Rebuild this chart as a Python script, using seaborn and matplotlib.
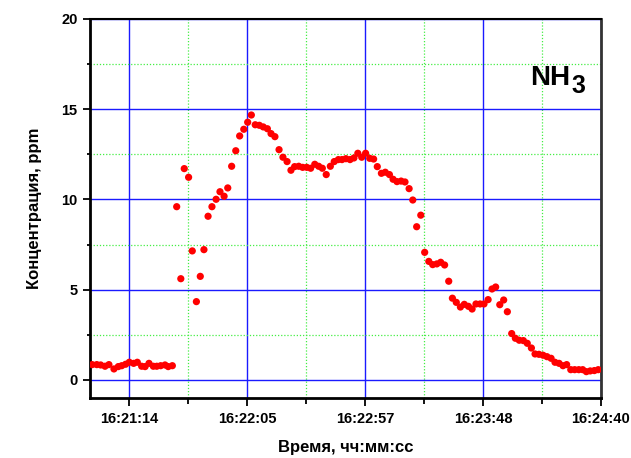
import matplotlib
matplotlib.use("Agg")
import matplotlib.pyplot as plt
import seaborn as sns
import pandas as pd
from matplotlib.ticker import FixedLocator, MultipleLocator

# time in seconds after 16:20:00
time_s = [57.8, 59.8, 61.5, 63.4, 65.1, 67.3, 69.2, 70.7, 72.4, 74.0,
          75.9, 77.5, 79.4, 80.9, 82.6, 84.5, 86.0, 87.7, 89.6, 91.0,
          92.8, 94.7, 96.5, 98.0, 99.9, 101.5, 103.3, 105.0, 106.6, 108.4,
          110.1, 111.9, 113.6, 115.4, 117.0, 118.7, 120.5, 122.2, 124.0, 125.7,
          127.3, 129.0, 130.8, 132.5, 134.3, 135.9, 137.6, 139.4, 141.1, 142.9,
          144.6, 146.2, 148.0, 149.7, 151.5, 153.2, 155.0, 156.7, 158.3, 160.0,
          161.8, 163.5, 165.3, 166.9, 168.6, 170.4, 172.1, 173.8, 175.5, 177.2,
          179.0, 180.7, 182.3, 184.1, 185.8, 187.6, 189.2, 190.9, 192.7, 194.4,
          196.2, 197.8, 199.5, 201.3, 203.0, 204.8, 206.5, 208.3, 210.0, 211.7,
          213.5, 215.1, 216.8, 218.6, 220.3, 222.1, 223.7, 225.4, 227.2, 228.9,
          230.7, 232.4, 234.0, 235.8, 237.5, 239.1, 241.0, 242.6, 244.3, 246.1,
          247.8, 249.6, 251.2, 252.9, 254.7, 256.4, 258.2, 259.9, 261.7, 263.4,
          265.0, 266.8, 268.5, 270.3, 272.0, 273.6, 275.3, 277.1, 278.8]

conc_ppm = [0.85, 0.85, 0.83, 0.76, 0.85, 0.61, 0.74, 0.79, 0.87, 0.98,
            0.92, 0.98, 0.76, 0.74, 0.92, 0.76, 0.76, 0.79, 0.83, 0.74,
            0.79, 9.60, 5.61, 11.71, 11.23, 7.15, 4.34, 5.74, 7.22, 9.07,
            9.60, 10.01, 10.43, 10.18, 10.64, 11.84, 12.70, 13.52, 13.89, 14.28,
            14.68, 14.14, 14.11, 14.02, 13.92, 13.65, 13.48, 12.76, 12.34, 12.10,
            11.62, 11.82, 11.84, 11.78, 11.78, 11.73, 11.95, 11.84, 11.73, 11.38,
            11.84, 12.10, 12.21, 12.21, 12.26, 12.21, 12.30, 12.56, 12.34, 12.56,
            12.28, 12.24, 11.82, 11.45, 11.51, 11.38, 11.12, 10.99, 11.02, 10.97,
            10.60, 9.97, 8.49, 9.13, 7.07, 6.57, 6.39, 6.43, 6.52, 6.37,
            5.47, 4.53, 4.30, 4.04, 4.19, 4.08, 3.93, 4.21, 4.21, 4.21,
            4.45, 5.04, 5.15, 4.17, 4.43, 3.78, 2.57, 2.31, 2.20, 2.18,
            2.03, 1.77, 1.44, 1.42, 1.37, 1.29, 1.20, 0.98, 0.92, 0.79,
            0.85, 0.57, 0.57, 0.57, 0.57, 0.46, 0.50, 0.52, 0.57]

x_tick_seconds = [74, 125.5, 177, 228.5, 280]
x_tick_labels = ["16:21:14", "16:22:05", "16:22:57", "16:23:48", "16:24:40"]
x_minor_seconds = [99.75, 151.25, 202.75, 254.25]
y_ticks = [0, 5, 10, 15, 20]

sns.set_theme(style="white")
plt.rcParams["font.family"] = ["Liberation Sans", "DejaVu Sans"]
plt.rcParams["font.weight"] = "bold"

fig = plt.figure(figsize=(6.31, 4.58), dpi=100)
W, H = 631, 458
ax = fig.add_axes([90 / W, 1 - 398 / H, 511 / W, 379 / H])

df = pd.DataFrame({"t": time_s, "c": conc_ppm})
sns.scatterplot(data=df, x="t", y="c", ax=ax, color="#ff0000", s=27,
                edgecolor="none", linewidth=0, zorder=3, legend=False)

ax.set_xlim(56.84, 280)
ax.set_ylim(-1, 20)
ax.xaxis.set_major_locator(FixedLocator(x_tick_seconds))
ax.set_xticklabels(x_tick_labels)
ax.xaxis.set_minor_locator(FixedLocator(x_minor_seconds))
ax.yaxis.set_major_locator(FixedLocator(y_ticks))
ax.yaxis.set_minor_locator(MultipleLocator(2.5))

ax.set_axisbelow(True)
ax.grid(which="major", color="#1a1aff", lw=1.0, ls="-")
ax.grid(which="minor", color="#44ee44", lw=0.9, ls=(0, (1, 1.5)))

ax.tick_params(which="both", bottom=True, left=True, direction="out",
               color="black", width=1.3)
ax.tick_params(axis="x", which="major", length=6, labelsize=10.5, pad=4)
ax.tick_params(axis="x", which="minor", length=4)
ax.tick_params(axis="y", which="major", length=5, labelsize=10.5, pad=4)
ax.tick_params(axis="y", which="minor", length=2.5)
for lbl in ax.get_xticklabels() + ax.get_yticklabels():
    lbl.set_fontweight("bold")
    lbl.set_color("black")

for side, sp in ax.spines.items():
    sp.set_visible(True)
    sp.set_color("black")
ax.spines["left"].set_linewidth(2)
ax.spines["bottom"].set_linewidth(2)
ax.spines["top"].set_linewidth(1.5)
ax.spines["right"].set_linewidth(2)
ax.spines["right"].set_color("#333333")

ax.set_xlabel("Время, чч:мм:сс", fontsize=12, fontweight="bold", color="black", labelpad=10)
ax.set_ylabel("Концентрация, ppm", fontsize=12, fontweight="bold", color="black", labelpad=14)

ax.text(0.862, 0.826, "NH", transform=ax.transAxes, fontsize=20,
        fontweight="bold", ha="left", va="baseline", color="black")
ax.text(0.943, 0.805, "3", transform=ax.transAxes, fontsize=18,
        fontweight="bold", ha="left", va="baseline", color="black")

fig.savefig("out.png", dpi=100)
